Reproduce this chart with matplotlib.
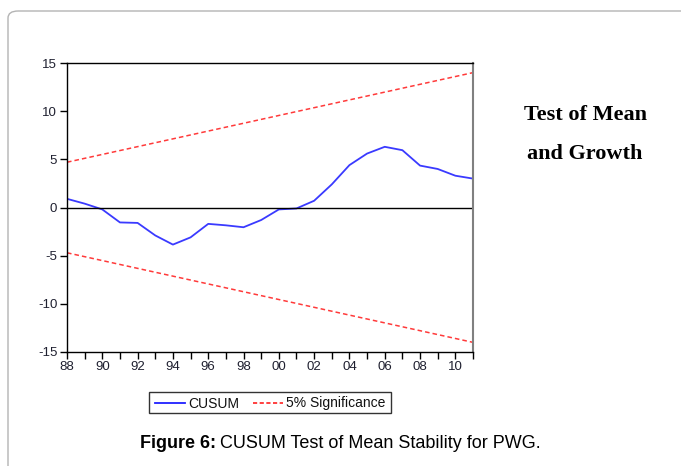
import matplotlib
matplotlib.use("Agg")
import matplotlib.pyplot as plt
from matplotlib.patches import FancyBboxPatch, Rectangle
from matplotlib.lines import Line2D

# ---- data ----
years = list(range(1988, 2012))
cusum = [0.9, 0.4, -0.2, -1.55, -1.6, -2.9, -3.85, -3.1, -1.7, -1.85, -2.05, -1.3,
         -0.2, -0.1, 0.7, 2.4, 4.4, 5.6, 6.3, 5.95, 4.35, 4.0, 3.3, 3.0]
bound_years = [1988, 2011]
upper_bound = [4.7, 14.0]
lower_bound = [-4.7, -14.0]
x_tick_years = list(range(1988, 2012, 2))
x_tick_labels = ["88", "90", "92", "94", "96", "98", "00", "02", "04", "06", "08", "10"]
y_ticks = [-15, -10, -5, 0, 5, 10, 15]
y_tick_labels = ["-15", "-10", "-5", "0", "5", "10", "15"]
legend_labels = ["CUSUM", "5% Significance"]

W, H = 681, 466
fig = plt.figure(figsize=(W / 100, H / 100), dpi=100)
fig.patch.set_facecolor("white")


def fx(px):
    return px / W


def fy(py):
    return 1 - py / H


# page border with rounded corner
border = FancyBboxPatch((fx(8), -0.2), 1.2, (H - 11) / H + 0.2,
                        boxstyle="round,pad=0,rounding_size=0.015",
                        transform=fig.transFigure, fill=False,
                        edgecolor="#b4b4b4", linewidth=1.0, clip_on=False)
fig.patches.append(border)

blue = "#3a3aff"
red = "#ff3a3a"
dash = (0, (3, 2))

ax = fig.add_axes([fx(67), fy(352), (473 - 67) / W, (352 - 63) / H])
ax.plot(years, cusum, color=blue, linewidth=1.3)
ax.plot(bound_years, upper_bound, color=red, linewidth=1.1, linestyle=dash)
ax.plot(bound_years, lower_bound, color=red, linewidth=1.1, linestyle=dash)
ax.axhline(0, color="black", linewidth=1.0)

ax.set_xlim(1988, 2011)
ax.set_ylim(-15, 15)
ax.set_xticks(x_tick_years)
ax.set_xticklabels(x_tick_labels)
ax.set_xticks(years, minor=True)
ax.set_yticks(y_ticks)
ax.set_yticklabels(y_tick_labels)

tick_color = "#1f2030"
ax.tick_params(axis="x", which="both", direction="out", length=5, width=1,
               labelsize=9.5, pad=1.5, labelcolor=tick_color)
ax.tick_params(axis="y", direction="out", length=5, width=1, labelsize=9.5,
               pad=2, labelcolor=tick_color)
for lab in ax.get_xticklabels() + ax.get_yticklabels():
    lab.set_fontfamily("Liberation Sans")

for s in ["left", "top", "bottom"]:
    ax.spines[s].set_color("black")
    ax.spines[s].set_linewidth(1.0)
ax.spines["right"].set_color("#808080")
ax.spines["right"].set_linewidth(1.5)

# legend (drawn by hand so both labels share one baseline)
fig.patches.append(Rectangle((fx(149), fy(413)), (391 - 149) / W, (413 - 392) / H,
                             transform=fig.transFigure, fill=False,
                             edgecolor="#333333", linewidth=1.0))
ly = fy(403)
fig.lines.append(Line2D([fx(155), fx(185)], [ly, ly], transform=fig.transFigure,
                        color="#2020ff", linewidth=1.3))
fig.lines.append(Line2D([fx(253), fx(283)], [ly, ly], transform=fig.transFigure,
                        color="#ff2020", linewidth=1.2, linestyle=(0, (2.5, 1.5))))
fig.text(fx(188), fy(407.5), legend_labels[0], ha="left", va="baseline",
         fontsize=10, family="Liberation Sans", color="#111111")
fig.text(fx(286), fy(407.5), legend_labels[1], ha="left", va="baseline",
         fontsize=10, family="Liberation Sans", color="#111111")

# side note
fig.text(fx(586), fy(115), "Test of Mean", ha="center", va="center",
         fontsize=16, fontweight="bold", family="Liberation Serif")
fig.text(fx(585), fy(154), "and Growth", ha="center", va="center",
         fontsize=16, fontweight="bold", family="Liberation Serif")

# caption
cap_y = fy(443)
t1 = fig.text(fx(140), cap_y, "Figure 6:", ha="left", va="center",
              fontsize=13, fontweight="bold", family="Liberation Sans")
fig.canvas.draw()
bb = t1.get_window_extent()
fig.text((bb.x1 + 4) / W, cap_y, "CUSUM Test of Mean Stability for PWG.",
         ha="left", va="center", fontsize=13, family="Liberation Sans")

fig.savefig("out.png", dpi=100)
